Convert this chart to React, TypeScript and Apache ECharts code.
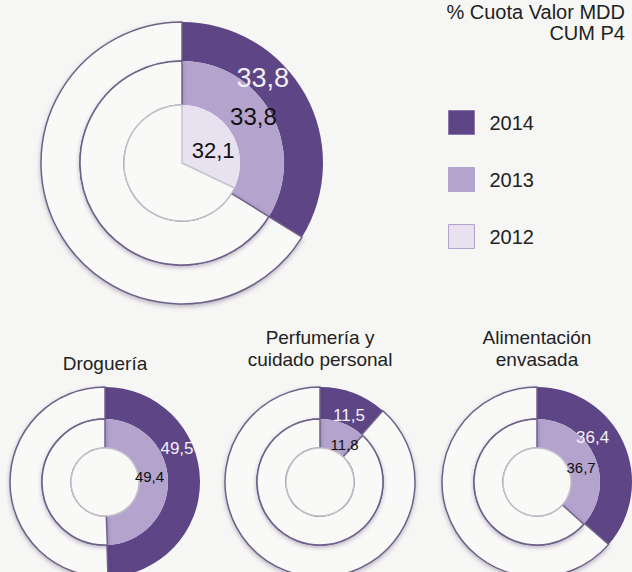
import React, { useEffect, useRef } from "react";
import * as echarts from "echarts";

// ---- data ----
const years = ["2014", "2013", "2012"];
const mainValues = [33.8, 33.8, 32.1]; // 2014, 2013, 2012
const categories = ["Droguería", "Perfumería y\ncuidado personal", "Alimentación\nenvasada"];
const catValues2014 = [49.5, 11.5, 36.4];
const catValues2013 = [49.4, 11.8, 36.7];
const headerLines = ["% Cuota Valor MDD", "CUM P4"];

// ---- styles ----
const COLORS = ["#5e4586", "#b3a3cd", "#e8e2f0"];
const BG = "#f6f6f4";
const REST = "#f9f9f8";
const RING_BORDER = "#6e6189";
const INNER_BORDER = "#c6c2cc";
const FONT = "Liberation Sans, Arial, sans-serif";

const fmt = (v: number) => v.toFixed(1).replace(".", ",");

function ring(
  center: [number, number],
  radius: [number, number],
  value: number,
  yearIdx: number,
  label: { size: number; color: string; dx: number; dy: number },
  restBorder: string,
  shadow: boolean
): any {
  return {
    type: "pie",
    center,
    radius,
    startAngle: 90,
    clockwise: true,
    silent: true,
    avoidLabelOverlap: false,
    labelLine: { show: false },
    emphasis: { disabled: true },
    label: { show: false },
    labelLayout: { dx: label.dx, dy: label.dy },
    data: [
      {
        name: years[yearIdx],
        value,
        itemStyle: { color: COLORS[yearIdx], borderWidth: 0 },
        label: {
          show: true,
          position: "inside",
          formatter: () => fmt(value),
          fontSize: label.size,
          color: label.color,
          fontFamily: FONT,
          textBorderWidth: 0,
        },
      },
      {
        name: "resto",
        value: 100 - value,
        itemStyle: {
          color: REST,
          borderColor: restBorder,
          borderWidth: 1.5,
          shadowBlur: shadow ? 4 : 0,
          shadowColor: "rgba(70,50,100,0.35)",
          shadowOffsetY: shadow ? 2 : 0,
        },
        label: { show: false },
      },
    ],
  };
}

function emptyCircle(center: [number, number], r: number): any {
  return {
    type: "pie",
    center,
    radius: [0, r],
    silent: true,
    label: { show: false },
    labelLine: { show: false },
    emphasis: { disabled: true },
    data: [{ name: "vacío", value: 1, itemStyle: { color: REST, borderColor: INNER_BORDER, borderWidth: 1.5 } }],
  };
}

export default function App() {
  const ref = useRef<HTMLDivElement>(null);
  useEffect(() => {
    document.body.style.margin = "0";
    const chart = echarts.init(ref.current!, null, { renderer: "svg" });

    const mainC: [number, number] = [182, 163];
    const smallX = [105, 320, 537];
    const smallY = 482;
    const outerLbl = [
      { dx: -10, dy: -32 },
      { dx: 0, dy: 10 },
      { dx: -19, dy: -11 },
    ];
    const midLbl = [
      { dx: -7, dy: -5 },
      { dx: 6, dy: 11 },
      { dx: -3, dy: 6 },
    ];

    const series: any[] = [
      ring(mainC, [102, 141], mainValues[0], 0, { size: 27, color: "#f3f0f7", dx: -28, dy: -24 }, RING_BORDER, true),
      ring(mainC, [58, 102], mainValues[1], 1, { size: 24, color: "#111", dx: -1, dy: -6 }, RING_BORDER, true),
      ring(mainC, [0, 58], mainValues[2], 2, { size: 22, color: "#111", dx: 4, dy: 5 }, INNER_BORDER, false),
    ];
    categories.forEach((_, i) => {
      const c: [number, number] = [smallX[i], smallY];
      series.push(
        ring(c, [63, 95], catValues2014[i], 0, { size: 17, color: "#f3f0f7", ...outerLbl[i] }, RING_BORDER, true)
      );
      series.push(
        ring(c, [34, 63], catValues2013[i], 1, { size: 15, color: "#111", ...midLbl[i] }, RING_BORDER, true)
      );
      series.push(emptyCircle(c, 34));
    });

    const headerY = [12, 33];
    const titleY = [363, 348, 348];
    const graphic: any[] = headerLines.map((t, i) => ({
      type: "text",
      x: 625,
      y: headerY[i],
      style: {
        text: t,
        fontSize: 20,
        fill: "#222",
        fontFamily: FONT,
        align: "right",
        verticalAlign: "middle",
      },
    }));
    categories.forEach((t, i) => {
      graphic.push({
        type: "text",
        x: smallX[i],
        y: titleY[i],
        style: {
          text: t,
          fontSize: 19,
          lineHeight: 22,
          fill: "#222",
          fontFamily: FONT,
          align: "center",
          verticalAlign: "middle",
        },
      });
    });

    chart.setOption({
      animation: false,
      backgroundColor: BG,
      legend: {
        orient: "vertical",
        left: 443,
        top: 105,
        itemWidth: 26,
        itemHeight: 24,
        itemGap: 32,
        icon: "rect",
        selectedMode: false,
        textStyle: { fontSize: 20, color: "#222", fontFamily: FONT, padding: [0, 0, 0, 10] },
        data: years.map((y, i) => ({
          name: y,
          itemStyle: { color: COLORS[i], borderColor: i === 0 ? "#8a76a8" : "#b4a2cf", borderWidth: 1 },
        })),
      },
      graphic,
      series,
    });
    return () => chart.dispose();
  }, []);
  return <div ref={ref} style={{ position: "fixed", left: 0, top: 0, width: 632, height: 572 }} />;
}
